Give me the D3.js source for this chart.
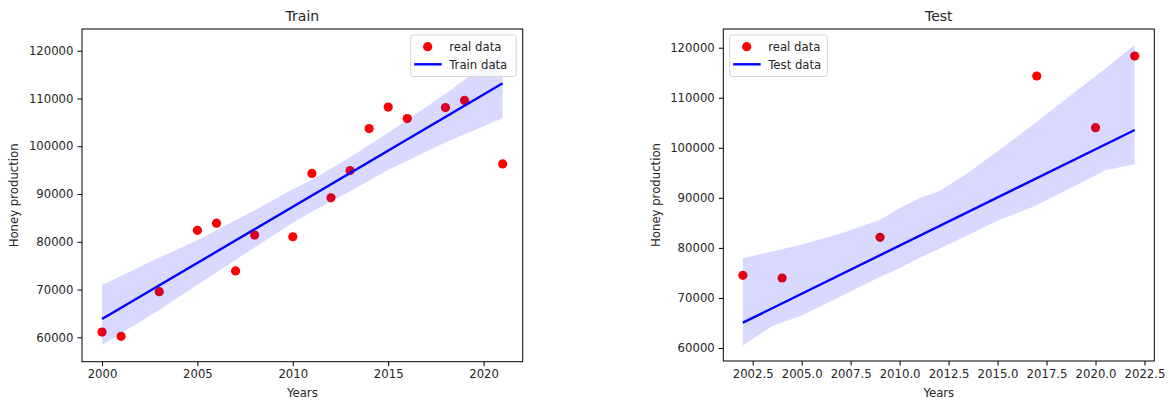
<!DOCTYPE html>
<html>
<head>
<meta charset="utf-8">
<script src="https://cdn.jsdelivr.net/npm/d3@7"></script>
<style>
  body { margin: 0; background: #fff; }
  svg text { font-family: "DejaVu Sans", sans-serif; fill: #262626; }
</style>
</head>
<body>
<svg id="chart" width="1172" height="400"></svg>
<script>
// ---- train panel data ----
const trainYears = [2000, 2001, 2003, 2005, 2006, 2007, 2008, 2010, 2011, 2012, 2013, 2014, 2015, 2016, 2018, 2019, 2021];
const trainValues = [61100, 60200, 69550, 82400, 83900, 73900, 81400, 81050, 94300, 89200, 94900, 103700, 108200, 105800, 108100, 109600, 96300];
const trainFitYears = [2000, 2021];
const trainFitValues = [63830, 113170];
const trainBandYears = [2000, 2003, 2005, 2008, 2010, 2011, 2013, 2015, 2018, 2021];
const trainBandUpper = [70950, 76700, 80300, 86600, 91000, 93000, 97700, 102800, 111000, 119800];
const trainBandLower = [58390, 65700, 71000, 78800, 84000, 86300, 90600, 95000, 100800, 105840];
const trainXTicks = [2000, 2005, 2010, 2015, 2020];

// ---- test panel data ----
const testYears = [2002, 2004, 2009, 2017, 2020, 2022];
const testValues = [74530, 73990, 82120, 114350, 104020, 118340];
const testFitYears = [2002, 2022];
const testFitValues = [65060, 103560];
const testBandYears = [2002, 2003.5, 2005, 2007, 2009, 2010, 2011, 2012, 2013.5, 2015, 2017, 2019, 2020.5, 2022];
const testBandUpper = [77920, 79300, 80700, 82900, 85600, 87900, 89900, 91300, 95000, 99300, 105200, 111300, 115800, 120600];
const testBandLower = [60500, 64400, 66500, 70300, 74200, 76000, 78000, 79800, 82600, 85400, 88500, 92500, 95500, 96700];
const testXTicks = [2002.5, 2005, 2007.5, 2010, 2012.5, 2015, 2017.5, 2020, 2022.5];

const yTicks = [60000, 70000, 80000, 90000, 100000, 110000, 120000];

var svg = d3.select('#chart');

var draw_panel = function(cfg){
    var g = svg.append('g');
    var x = d3.scaleLinear().domain(cfg.xDomain).range([cfg.left, cfg.right]);
    var y = d3.scaleLinear().domain(cfg.yDomain).range([cfg.bottom, cfg.top]);

    // points first, band goes over them (that's why the covered dots look darker)
    g.selectAll('circle.pt').data(cfg.years).enter().append('circle')
        .attr('class', 'pt')
        .attr('cx', function(d){ return x(d); })
        .attr('cy', function(d, i){ return y(cfg.values[i]); })
        .attr('r', 4.6)
        .attr('fill', '#ff0000');

    var area = d3.area()
        .x(function(d){ return x(d); })
        .y0(function(d, i){ return y(cfg.bandLower[i]); })
        .y1(function(d, i){ return y(cfg.bandUpper[i]); });
    g.append('path').datum(cfg.bandYears)
        .attr('d', area)
        .attr('fill', '#0000ff').attr('fill-opacity', 0.15);

    var line = d3.line()
        .x(function(d){ return x(d); })
        .y(function(d, i){ return y(cfg.fitValues[i]); });
    g.append('path').datum(cfg.fitYears)
        .attr('d', line)
        .attr('fill', 'none').attr('stroke', '#0000ff').attr('stroke-width', 2.4);

    // axes
    var xAxis = d3.axisBottom(x).tickValues(cfg.xTicks).tickSize(4.5).tickPadding(4)
        .tickFormat(cfg.xFormat);
    var yAxis = d3.axisLeft(y).tickValues(yTicks).tickSize(4.5).tickPadding(4)
        .tickFormat(d3.format('d'));
    var xg = g.append('g').attr('transform', 'translate(0,' + cfg.bottom + ')').call(xAxis);
    var yg = g.append('g').attr('transform', 'translate(' + cfg.left + ',0)').call(yAxis);
    [xg, yg].forEach(function(a){
        a.select('.domain').remove();
        a.selectAll('.tick line').attr('stroke', '#000').attr('stroke-width', 1);
        a.selectAll('.tick text').attr('font-size', 11.7).attr('fill', '#262626')
            .attr('font-family', 'DejaVu Sans');
    });

    // frame
    g.append('rect')
        .attr('x', cfg.left).attr('y', cfg.top)
        .attr('width', cfg.right - cfg.left).attr('height', cfg.bottom - cfg.top)
        .attr('fill', 'none').attr('stroke', '#000').attr('stroke-width', 1);

    var cx = (cfg.left + cfg.right) / 2;
    g.append('text').attr('x', cx).attr('y', 21)
        .attr('text-anchor', 'middle').attr('font-size', 14).text(cfg.title);
    g.append('text').attr('x', cx).attr('y', 397)
        .attr('text-anchor', 'middle').attr('font-size', 11.7).text('Years');
    g.append('text')
        .attr('transform', 'translate(' + cfg.ylabelX + ',' + ((cfg.top + cfg.bottom) / 2) + ') rotate(-90)')
        .attr('text-anchor', 'middle').attr('font-size', 11.7).text('Honey production');

    // legend
    var lg = g.append('g').attr('transform', 'translate(' + cfg.legendX + ',35)');
    lg.append('rect').attr('width', cfg.legendW).attr('height', 41.5)
        .attr('rx', 2.5).attr('fill', '#fff').attr('fill-opacity', 0.8)
        .attr('stroke', '#d6d6d6').attr('stroke-width', 1);
    lg.append('circle').attr('cx', 17).attr('cy', 11.7).attr('r', 4.6).attr('fill', '#ff0000');
    lg.append('line').attr('x1', 3.5).attr('x2', 31).attr('y1', 29.3).attr('y2', 29.3)
        .attr('stroke', '#0000ff').attr('stroke-width', 2.4);
    lg.append('text').attr('x', 38.5).attr('y', 15.8).attr('font-size', 11.7).text('real data');
    lg.append('text').attr('x', 38.5).attr('y', 33.5).attr('font-size', 11.7).text(cfg.fitLabel);
};

draw_panel({
    title: 'Train', fitLabel: 'Train data',
    years: trainYears, values: trainValues,
    fitYears: trainFitYears, fitValues: trainFitValues,
    bandYears: trainBandYears, bandUpper: trainBandUpper, bandLower: trainBandLower,
    xTicks: trainXTicks, xFormat: d3.format('d'),
    xDomain: [1998.95, 2022.05], yDomain: [54892, 124543],
    left: 82, right: 522.7, top: 29, bottom: 361.7,
    ylabelX: 18, legendX: 410.7, legendW: 105.5
});

draw_panel({
    title: 'Test', fitLabel: 'Test data',
    years: testYears, values: testValues,
    fitYears: testFitYears, fitValues: testFitValues,
    bandYears: testBandYears, bandUpper: testBandUpper, bandLower: testBandLower,
    xTicks: testXTicks, xFormat: d3.format('.1f'),
    xDomain: [2001, 2023], yDomain: [57403, 123736],
    left: 723.3, right: 1154.3, top: 29, bottom: 361,
    ylabelX: 660, legendX: 729.7, legendW: 97.6
});
</script>
</body>
</html>
